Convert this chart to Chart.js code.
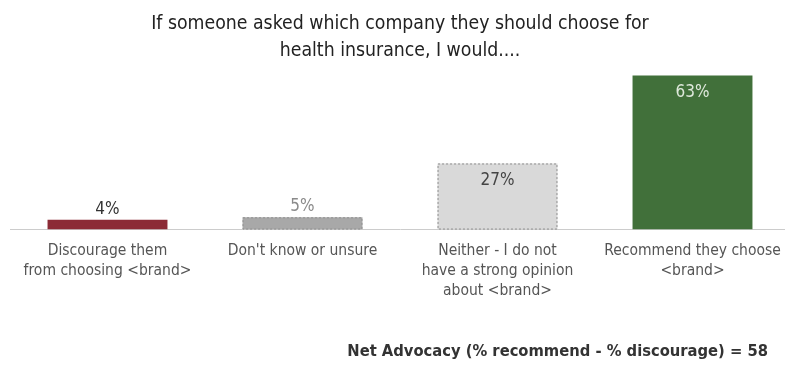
<!DOCTYPE html>
<html>
<head>
<meta charset="utf-8">
<script src="https://cdn.jsdelivr.net/npm/chart.js@4"></script>
<style>
  html, body { margin: 0; padding: 0; background: #fff; overflow: hidden; }
  #wrap { width: 790px; height: 367px; position: relative; }
</style>
</head>
<body>
<div id="wrap"><canvas id="chart1"></canvas></div>
<script>
var categories = [
    ["Discourage them", "from choosing <brand>"],
    ["Don't know or unsure"],
    ["Neither - I do not", "have a strong opinion", "about <brand>"],
    ["Recommend they choose", "<brand>"]
]
var shares = [4, 5, 27, 63]
var titleLines = ["If someone asked which company they should choose for", "health insurance, I would...."]
var footNote = "Net Advocacy (% recommend - % discourage) = 58"

var fillColors = ["#8c2b36", "#a8a8a8", "#d9d9d9", "#41703a"]
var dashed = [false, true, true, false]
var labelColors = ["#333333", "#8a8a8a", "#444444", "#dfe9dc"]
var labelInside = [false, false, true, true]

var fontFam = "'DejaVu Sans Condensed', 'Liberation Sans Narrow', 'Noto Sans', sans-serif"

// value labels, dashed outlines and the footnote
var barExtras = {
    id: "barExtras",
    afterDatasetsDraw: function(chart) {
        var ctx = chart.ctx
        var meta = chart.getDatasetMeta(0)
        meta.data.forEach(function(bar, i) {
            var left = bar.x - bar.width / 2
            var top = bar.y
            var h = bar.base - bar.y
            if (dashed[i]) {
                ctx.save()
                ctx.strokeStyle = "#8f8f8f"
                ctx.lineWidth = 1
                ctx.setLineDash([2, 2])
                ctx.strokeRect(left + 0.5, top + 0.5, bar.width - 1, h - 1)
                ctx.restore()
            }
            ctx.save()
            ctx.font = "17px " + fontFam
            ctx.fillStyle = labelColors[i]
            ctx.textAlign = "center"
            if (labelInside[i]) {
                ctx.textBaseline = "top"
                ctx.fillText(shares[i] + "%", bar.x, top + 9)
            } else {
                ctx.textBaseline = "bottom"
                ctx.fillText(shares[i] + "%", bar.x, top - 2)
            }
            ctx.restore()
        })
    },
    afterDraw: function(chart) {
        var ctx = chart.ctx
        ctx.save()
        ctx.font = "bold 16.4px " + fontFam
        ctx.fillStyle = "#333"
        ctx.textAlign = "right"
        ctx.textBaseline = "middle"
        ctx.fillText(footNote, 768, 352)
        ctx.restore()
    }
}

window.onload = () => {
    const ctx = document.getElementById("chart1").getContext("2d")
    new Chart(ctx, {
        type: "bar",
        data: {
            labels: categories,
            datasets: [{
                data: shares,
                backgroundColor: fillColors,
                borderWidth: 0,
                barPercentage: 1,
                categoryPercentage: 0.615
            }]
        },
        options: {
            responsive: true,
            maintainAspectRatio: false,
            animation: false,
            layout: { padding: { left: 10, right: 0, top: 10, bottom: 63 } },
            plugins: {
                legend: { display: false },
                tooltip: { enabled: false },
                title: {
                    display: true,
                    text: titleLines,
                    color: "#222",
                    font: { family: fontFam, size: 19.3, weight: "normal", lineHeight: 1.4 },
                    padding: { top: 0, bottom: 4 }
                }
            },
            scales: {
                x: {
                    grid: { display: false },
                    border: { display: true, color: "#cccccc" },
                    ticks: {
                        color: "#555",
                        font: { family: fontFam, size: 15.5, lineHeight: 1.3 },
                        maxRotation: 0,
                        autoSkip: false,
                        padding: 3
                    }
                },
                y: {
                    display: false,
                    min: 0,
                    max: 66
                }
            }
        },
        plugins: [barExtras]
    })
}
</script>
</body>
</html>
